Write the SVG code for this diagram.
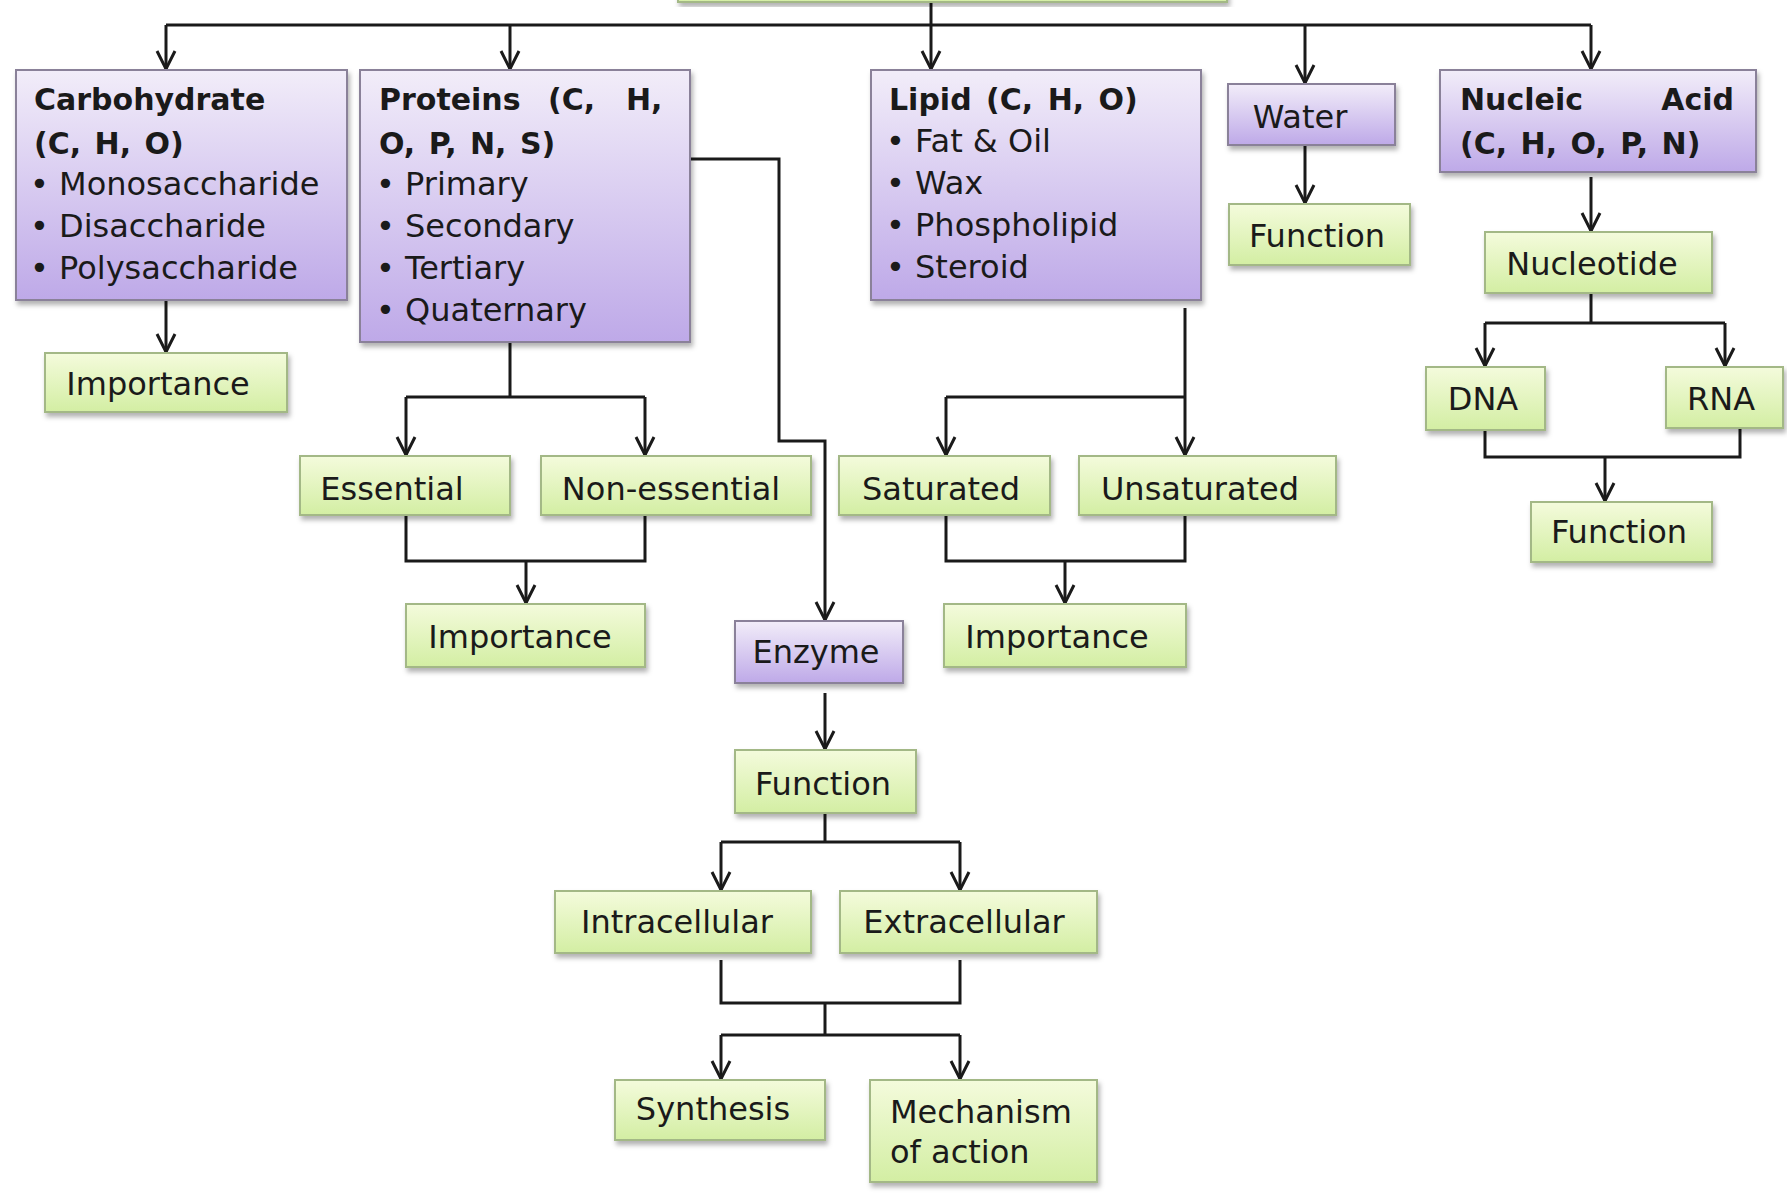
<svg xmlns="http://www.w3.org/2000/svg" width="1787" height="1196" viewBox="0 0 1787 1196">
<defs>
<linearGradient id="gp" x1="0" y1="0" x2="0" y2="1"><stop offset="0" stop-color="#f2edf9"/><stop offset="1" stop-color="#bea9e8"/></linearGradient>
<linearGradient id="gg" x1="0" y1="0" x2="0" y2="1"><stop offset="0" stop-color="#f4fbdc"/><stop offset="1" stop-color="#d3eea3"/></linearGradient>
<filter id="sh" x="-10%" y="-10%" width="120%" height="130%"><feDropShadow dx="2" dy="4" stdDeviation="2.5" flood-color="#000" flood-opacity="0.3"/></filter>
<marker id="ar" markerUnits="userSpaceOnUse" markerWidth="30" markerHeight="30" viewBox="-22 -15 30 30" refX="0" refY="0" orient="auto"><path d="M-18,-9 L0,0 L-18,9" fill="none" stroke="#1a1a1a" stroke-width="3" stroke-linejoin="miter"/></marker>
<style>
.p{fill:url(#gp);stroke:#8a8199;stroke-width:2;filter:url(#sh)}
.g{fill:url(#gg);stroke:#a3b886;stroke-width:2;filter:url(#sh)}
.t{font-family:"DejaVu Sans",sans-serif;font-size:32px;fill:#1a1a1a}
.h{font-family:"DejaVu Sans",sans-serif;font-size:30px;font-weight:bold;fill:#1a1a1a}
.m{text-anchor:middle}
.c path{fill:none;stroke:#1a1a1a;stroke-width:3}
.a{marker-end:url(#ar)}
</style>
</defs>
<rect width="1787" height="1196" fill="#ffffff"/>
<g class="c">
<path d="M166,25 H1591"/>
<path class="a" d="M931,2 V69"/>
<path class="a" d="M166,25 V69"/>
<path class="a" d="M510,25 V69"/>
<path class="a" d="M1305,25 V83"/>
<path class="a" d="M1591,25 V69"/>
<path class="a" d="M166,293 V352"/>
<path d="M510,342 V397 M406,397 H645"/>
<path class="a" d="M406,397 V455"/>
<path class="a" d="M645,397 V455"/>
<path class="a" d="M690,159 H779 V441 H825 V620"/>
<path d="M406,515 V561 H645 V515"/>
<path class="a" d="M526,561 V603"/>
<path class="a" d="M1185,308 V455"/>
<path d="M946,397 H1185"/>
<path class="a" d="M946,397 V455"/>
<path d="M946,515 V561 H1185 V515"/>
<path class="a" d="M1065,561 V603"/>
<path class="a" d="M1305,145 V203"/>
<path class="a" d="M1591,177 V231"/>
<path d="M1591,293 V323 M1485,323 H1725"/>
<path class="a" d="M1485,323 V366"/>
<path class="a" d="M1725,323 V366"/>
<path d="M1485,430 V457 H1740 V428"/>
<path class="a" d="M1605,457 V501"/>
<path class="a" d="M825,693 V749"/>
<path d="M825,813 V842 M721,842 H960"/>
<path class="a" d="M721,842 V890"/>
<path class="a" d="M960,842 V890"/>
<path d="M721,960 V1003 H960 V960 M825,1003 V1035 M721,1035 H960"/>
<path class="a" d="M721,1035 V1079"/>
<path class="a" d="M960,1035 V1079"/>
</g>
<g id="top"><rect class="g" x="678" y="-20" width="549" height="22"/></g>
<g id="carbohydrate"><rect class="p" x="16" y="70" width="331" height="230"/>
<text class="h" x="34" y="110">Carbohydrate</text>
<text class="h" x="34" y="154" word-spacing="3">(C, H, O)</text>
<text class="t" x="30" y="195">• Monosaccharide</text>
<text class="t" x="30" y="237">• Disaccharide</text>
<text class="t" x="30" y="279">• Polysaccharide</text></g>
<g id="proteins"><rect class="p" x="360" y="70" width="330" height="272"/>
<text class="h" y="110"><tspan x="379">Proteins</tspan><tspan x="548">(C,</tspan><tspan x="626">H,</tspan></text>
<text class="h" x="379" y="154" word-spacing="3">O, P, N, S)</text>
<text class="t" x="376" y="195">• Primary</text>
<text class="t" x="376" y="237">• Secondary</text>
<text class="t" x="376" y="279">• Tertiary</text>
<text class="t" x="376" y="321">• Quaternary</text></g>
<g id="lipid"><rect class="p" x="871" y="70" width="330" height="230"/>
<text class="h" x="889" y="110" word-spacing="4">Lipid (C, H, O)</text>
<text class="t" x="886" y="152">• Fat &amp; Oil</text>
<text class="t" x="886" y="194">• Wax</text>
<text class="t" x="886" y="236">• Phospholipid</text>
<text class="t" x="886" y="278">• Steroid</text></g>
<g id="water"><rect class="p" x="1228" y="84" width="167" height="61"/>
<text class="t m" x="1300" y="128">Water</text></g>
<g id="nucleic-acid"><rect class="p" x="1440" y="70" width="316" height="102"/>
<text class="h" y="110"><tspan x="1460">Nucleic</tspan><tspan x="1734" text-anchor="end">Acid</tspan></text>
<text class="h" x="1460" y="154" word-spacing="3">(C, H, O, P, N)</text></g>
<g id="importance-carb"><rect class="g" x="45" y="353" width="242" height="59"/>
<text class="t m" x="158" y="395">Importance</text></g>
<g id="function-water"><rect class="g" x="1229" y="204" width="181" height="61"/>
<text class="t m" x="1317" y="247">Function</text></g>
<g id="nucleotide"><rect class="g" x="1485" y="232" width="227" height="61"/>
<text class="t m" x="1592" y="275">Nucleotide</text></g>
<g id="dna"><rect class="g" x="1426" y="367" width="119" height="63"/>
<text class="t m" x="1483" y="410">DNA</text></g>
<g id="rna"><rect class="g" x="1666" y="367" width="117" height="61"/>
<text class="t m" x="1721" y="410">RNA</text></g>
<g id="function-nucleic"><rect class="g" x="1531" y="502" width="181" height="60"/>
<text class="t m" x="1619" y="543">Function</text></g>
<g id="essential"><rect class="g" x="300" y="456" width="210" height="59"/>
<text class="t m" x="392" y="500">Essential</text></g>
<g id="non-essential"><rect class="g" x="541" y="456" width="270" height="59"/>
<text class="t m" x="671" y="500">Non-essential</text></g>
<g id="saturated"><rect class="g" x="839" y="456" width="211" height="59"/>
<text class="t m" x="941" y="500">Saturated</text></g>
<g id="unsaturated"><rect class="g" x="1079" y="456" width="257" height="59"/>
<text class="t m" x="1200" y="500">Unsaturated</text></g>
<g id="importance-protein"><rect class="g" x="406" y="604" width="239" height="63"/>
<text class="t m" x="520" y="648">Importance</text></g>
<g id="enzyme"><rect class="p" x="735" y="621" width="168" height="62"/>
<text class="t m" x="816" y="663">Enzyme</text></g>
<g id="importance-lipid"><rect class="g" x="944" y="604" width="242" height="63"/>
<text class="t m" x="1057" y="648">Importance</text></g>
<g id="function-enzyme"><rect class="g" x="735" y="750" width="181" height="63"/>
<text class="t m" x="823" y="795">Function</text></g>
<g id="intracellular"><rect class="g" x="555" y="891" width="256" height="62"/>
<text class="t m" x="677" y="933">Intracellular</text></g>
<g id="extracellular"><rect class="g" x="840" y="891" width="257" height="62"/>
<text class="t m" x="964" y="933">Extracellular</text></g>
<g id="synthesis"><rect class="g" x="615" y="1080" width="210" height="60"/>
<text class="t m" x="713" y="1120">Synthesis</text></g>
<g id="mechanism"><rect class="g" x="870" y="1080" width="227" height="102"/>
<text class="t" x="890" y="1123">Mechanism</text>
<text class="t" x="890" y="1163">of action</text></g>
</svg>
